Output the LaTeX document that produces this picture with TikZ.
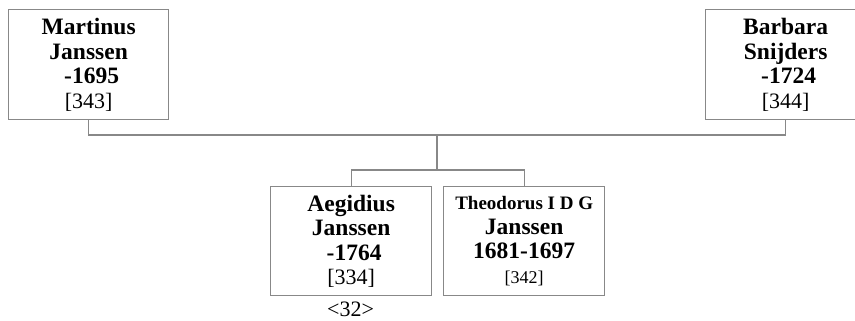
\documentclass[tikz,border=0pt]{standalone}
\usepackage{fontspec}
\setmainfont{Liberation Serif}
\definecolor{linegray}{RGB}{136,136,136}
\tikzset{
  person/.style={draw=linegray, line width=1.3pt, inner sep=0pt, align=center,
    anchor=north west, text=black,
    font=\fontsize{23.5}{24.5}\selectfont\bfseries},
  conn/.style={draw=linegray, line width=1.3pt},
  refno/.style={font=\fontsize{22}{24.5}\selectfont\mdseries},
}
\newcommand{\refnum}[1]{{\mdseries\fontsize{22}{24.5}\selectfont #1}}
\begin{document}
\begin{tikzpicture}[x=1pt,y=-1pt]
\clip (0,0) rectangle (855,321);
\node[person, minimum width=160pt, minimum height=110pt] (m) at (8,9)
  {Martinus\\Janssen\\~-1695\\\refnum{[343]}};
\node[person, minimum width=160pt, minimum height=110pt] (b) at (705,9)
  {Barbara\\Snijders\\~-1724\\\refnum{[344]}};
\node[person, minimum width=161pt, minimum height=109pt] (a) at (270,186)
  {Aegidius\\Janssen\\~-1764\\\refnum{[334]}};
\node[person, minimum width=161pt, minimum height=109pt] (t) at (443,186)
  {{\fontsize{19}{24.5}\selectfont Theodorus I D G}\\Janssen\\1681-1697\\{\mdseries\fontsize{18}{24.5}\selectfont [342]}};
\node[refno, anchor=base] (n) at (350.5,316) {<32>};
\coordinate (fam) at (437,135);
\coordinate (sib) at (437,170);
\draw[conn] (m.south) |- (fam) -| (b.south);
\draw[conn] (fam) -- (sib);
\draw[conn] (a.north) |- (sib) -| (t.north);
\end{tikzpicture}
\end{document}
